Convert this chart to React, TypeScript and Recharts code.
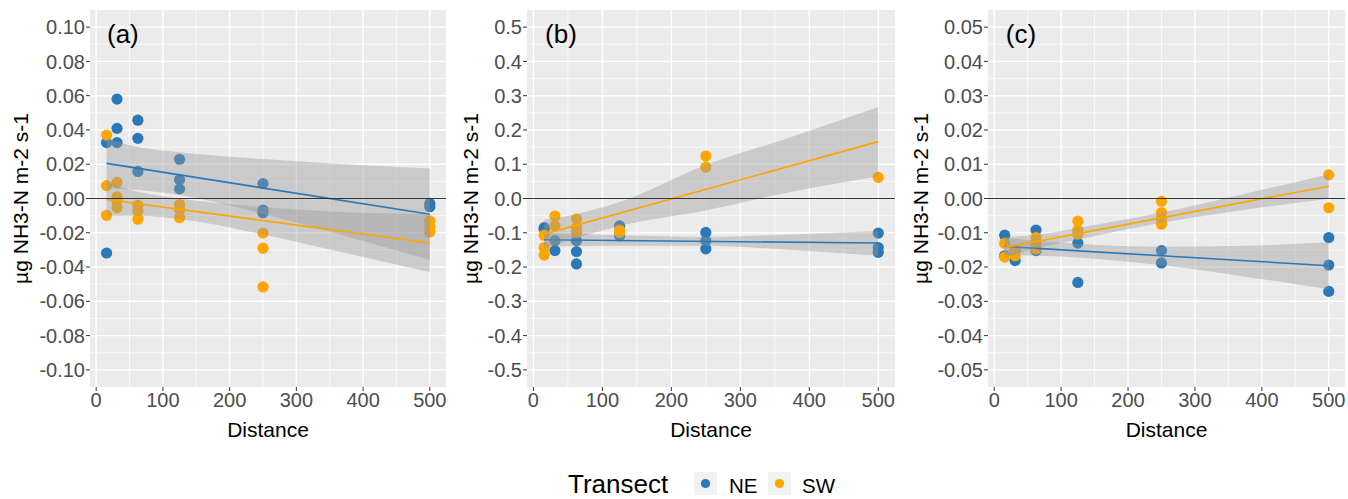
import React from 'react';
import {
  ComposedChart,
  Scatter,
  Line,
  Area,
  XAxis,
  YAxis,
  CartesianGrid,
  ReferenceLine,
  ReferenceDot,
} from 'recharts';

const NE_COLOR = '#2A78B8';
const SW_COLOR = '#FFA500';
const FONT = '"Liberation Sans", Arial, Helvetica, sans-serif';
const Y_TITLE = 'µg NH3-N m-2 s-1';

const xTicks = [0, 100, 200, 300, 400, 500];
const xMinor = [50, 150, 250, 350, 450];

// ---------- Panel (a) ----------
const aTicks = [-0.1, -0.08, -0.06, -0.04, -0.02, 0, 0.02, 0.04, 0.06, 0.08, 0.1];
const aMinor = [-0.09, -0.07, -0.05, -0.03, -0.01, 0.01, 0.03, 0.05, 0.07, 0.09];
const aNE = [
  { x: 15.625, y: 0.0326 }, { x: 15.625, y: -0.0318 },
  { x: 31.25, y: 0.058 }, { x: 31.25, y: 0.0409 }, { x: 31.25, y: 0.0326 },
  { x: 62.5, y: 0.0457 }, { x: 62.5, y: 0.0351 }, { x: 62.5, y: 0.0158 },
  { x: 125, y: 0.0229 }, { x: 125, y: 0.011 }, { x: 125, y: 0.0056 },
  { x: 250, y: 0.0087 }, { x: 250, y: -0.0067 }, { x: 250, y: -0.0083 },
  { x: 500, y: -0.0029 }, { x: 500, y: -0.0048 },
];
const aSW = [
  { x: 15.625, y: 0.037 }, { x: 15.625, y: 0.0075 }, { x: 15.625, y: -0.0098 },
  { x: 31.25, y: 0.0094 }, { x: 31.25, y: 0.001 }, { x: 31.25, y: -0.0015 }, { x: 31.25, y: -0.0054 },
  { x: 62.5, y: -0.004 }, { x: 62.5, y: -0.0073 }, { x: 62.5, y: -0.0121 },
  { x: 125, y: -0.0035 }, { x: 125, y: -0.0064 }, { x: 125, y: -0.0112 },
  { x: 250, y: -0.0202 }, { x: 250, y: -0.029 }, { x: 250, y: -0.0516 },
  { x: 500, y: -0.0131 }, { x: 500, y: -0.0164 }, { x: 500, y: -0.0195 },
];
const aNELine = [{ x: 15.625, y: 0.0205 }, { x: 500, y: -0.0092 }];
const aSWLine = [{ x: 15.625, y: -0.0006 }, { x: 500, y: -0.026 }];
const aNEBand = [
  { x: 15.625, lo: 0.006, hi: 0.035 },
  { x: 62.5, lo: 0.005, hi: 0.030 },
  { x: 125, lo: 0.002, hi: 0.027 },
  { x: 250, lo: -0.009, hi: 0.023 },
  { x: 375, lo: -0.022, hi: 0.020 },
  { x: 500, lo: -0.036, hi: 0.0175 },
];
const aSWBand = [
  { x: 15.625, lo: -0.010, hi: 0.009 },
  { x: 62.5, lo: -0.010, hi: 0.004 },
  { x: 125, lo: -0.012, hi: 0.0 },
  { x: 250, lo: -0.021, hi: -0.005 },
  { x: 375, lo: -0.032, hi: -0.008 },
  { x: 500, lo: -0.043, hi: -0.009 },
];

// ---------- Panel (b) ----------
const bTicks = [-0.5, -0.4, -0.3, -0.2, -0.1, 0, 0.1, 0.2, 0.3, 0.4, 0.5];
const bMinor = [-0.45, -0.35, -0.25, -0.15, -0.05, 0.05, 0.15, 0.25, 0.35, 0.45];
const bNE = [
  { x: 15.625, y: -0.085 }, { x: 15.625, y: -0.09 },
  { x: 31.25, y: -0.123 }, { x: 31.25, y: -0.152 },
  { x: 62.5, y: -0.123 }, { x: 62.5, y: -0.155 }, { x: 62.5, y: -0.191 },
  { x: 125, y: -0.08 }, { x: 125, y: -0.109 },
  { x: 250, y: -0.099 }, { x: 250, y: -0.123 }, { x: 250, y: -0.147 },
  { x: 500, y: -0.101 }, { x: 500, y: -0.143 }, { x: 500, y: -0.157 },
];
const bSW = [
  { x: 15.625, y: -0.107 }, { x: 15.625, y: -0.143 }, { x: 15.625, y: -0.165 },
  { x: 31.25, y: -0.051 }, { x: 31.25, y: -0.08 },
  { x: 62.5, y: -0.06 }, { x: 62.5, y: -0.085 }, { x: 62.5, y: -0.099 },
  { x: 125, y: -0.092 }, { x: 125, y: -0.099 },
  { x: 250, y: 0.124 }, { x: 250, y: 0.0916 },
  { x: 500, y: 0.0617 },
];
const bNELine = [{ x: 15.625, y: -0.1205 }, { x: 500, y: -0.13 }];
const bSWLine = [{ x: 15.625, y: -0.104 }, { x: 500, y: 0.166 }];
const bNEBand = [
  { x: 15.625, lo: -0.140, hi: -0.101 },
  { x: 125, lo: -0.138, hi: -0.107 },
  { x: 250, lo: -0.138, hi: -0.112 },
  { x: 375, lo: -0.150, hi: -0.105 },
  { x: 500, lo: -0.167, hi: -0.095 },
];
const bSWBand = [
  { x: 15.625, lo: -0.145, hi: -0.062 },
  { x: 62.5, lo: -0.115, hi: -0.045 },
  { x: 125, lo: -0.080, hi: -0.010 },
  { x: 250, lo: -0.035, hi: 0.098 },
  { x: 375, lo: 0.020, hi: 0.180 },
  { x: 500, lo: 0.064, hi: 0.267 },
];

// ---------- Panel (c) ----------
const cTicks = [-0.05, -0.04, -0.03, -0.02, -0.01, 0, 0.01, 0.02, 0.03, 0.04, 0.05];
const cMinor = [-0.045, -0.035, -0.025, -0.015, -0.005, 0.005, 0.015, 0.025, 0.035, 0.045];
const cNE = [
  { x: 15.625, y: -0.0107 }, { x: 15.625, y: -0.0167 },
  { x: 31.25, y: -0.0152 }, { x: 31.25, y: -0.0181 },
  { x: 62.5, y: -0.0092 }, { x: 62.5, y: -0.0152 },
  { x: 125, y: -0.013 }, { x: 125, y: -0.0245 },
  { x: 250, y: -0.0152 }, { x: 250, y: -0.0188 },
  { x: 500, y: -0.0114 }, { x: 500, y: -0.0194 }, { x: 500, y: -0.0271 },
];
const cSW = [
  { x: 15.625, y: -0.0131 }, { x: 15.625, y: -0.0171 },
  { x: 31.25, y: -0.015 }, { x: 31.25, y: -0.0167 },
  { x: 62.5, y: -0.0114 }, { x: 62.5, y: -0.0133 }, { x: 62.5, y: -0.0147 },
  { x: 125, y: -0.0066 }, { x: 125, y: -0.0092 }, { x: 125, y: -0.0104 },
  { x: 250, y: -0.0008 }, { x: 250, y: -0.0041 }, { x: 250, y: -0.0059 }, { x: 250, y: -0.0075 },
  { x: 500, y: 0.0069 }, { x: 500, y: -0.0027 },
];
const cNELine = [{ x: 15.625, y: -0.014 }, { x: 500, y: -0.0196 }];
const cSWLine = [{ x: 15.625, y: -0.0143 }, { x: 500, y: 0.0036 }];
const cNEBand = [
  { x: 15.625, lo: -0.0165, hi: -0.0115 },
  { x: 125, lo: -0.0172, hi: -0.0132 },
  { x: 250, lo: -0.0195, hi: -0.0141 },
  { x: 375, lo: -0.0228, hi: -0.0138 },
  { x: 500, lo: -0.0265, hi: -0.0128 },
];
const cSWBand = [
  { x: 15.625, lo: -0.0173, hi: -0.0113 },
  { x: 62.5, lo: -0.0146, hi: -0.0106 },
  { x: 125, lo: -0.0120, hi: -0.0086 },
  { x: 250, lo: -0.0071, hi: -0.0041 },
  { x: 375, lo: -0.0033, hi: 0.0014 },
  { x: 500, lo: -0.0001, hi: 0.0071 },
];

const bandKey = (d: any) => [d.lo, d.hi];

const dot = (color: string) => (p: any) =>
  p.cx == null ? <g /> : <circle cx={p.cx} cy={p.cy} r={5.6} fill={color} />;

type PanelProps = {
  left: number;
  width: number;
  yWidth: number;
  mRight: number;
  domain: [number, number];
  yTicks: number[];
  yMinor: number[];
  digits: number;
  ne: any[];
  sw: any[];
  neLine: any[];
  swLine: any[];
  neBand: any[];
  swBand: any[];
  tag: string;
  tagY: number;
};

function Panel(props: PanelProps) {
  const {
    left, width, yWidth, mRight, domain, yTicks, yMinor, digits,
    ne, sw, neLine, swLine, neBand, swBand, tag, tagY,
  } = props;
  return (
    <div style={{ position: 'absolute', left, top: 0 }}>
      <ComposedChart
        width={width}
        height={440}
        margin={{ top: 10, right: mRight, bottom: 0, left: 0 }}
      >
        <CartesianGrid
          fill="#EBEBEB"
          fillOpacity={1}
          stroke="#FFFFFF"
          strokeWidth={0.7}
          horizontalValues={yMinor}
          verticalValues={xMinor}
        />
        <CartesianGrid
          fill="none"
          stroke="#FFFFFF"
          strokeWidth={1.4}
          horizontalValues={yTicks}
          verticalValues={xTicks}
        />
        <XAxis
          type="number"
          dataKey="x"
          domain={[-9.25, 524.25]}
          ticks={xTicks}
          interval={0}
          allowDataOverflow
          axisLine={false}
          tickLine={{ stroke: '#333333' }}
          tickSize={4}
          tickMargin={2}
          height={53}
          tick={{ fill: '#4D4D4D', fontSize: 20, fontFamily: FONT }}
          label={{
            content: (lp: any) => {
              const vb = lp.viewBox || {};
              return (
                <text
                  x={vb.x + vb.width / 2}
                  y={437}
                  textAnchor="middle"
                  fontSize={21}
                  fontFamily={FONT}
                  fill="#000000"
                >
                  Distance
                </text>
              );
            },
          }}
        />
        <YAxis
          type="number"
          dataKey="y"
          domain={domain}
          ticks={yTicks}
          interval={0}
          allowDataOverflow
          width={yWidth}
          axisLine={false}
          tickLine={{ stroke: '#333333' }}
          tickSize={4}
          tickMargin={1}
          tick={{ fill: '#4D4D4D', fontSize: 20, fontFamily: FONT }}
          tickFormatter={(v: number) => (Math.abs(v) < 1e-12 ? 0 : v).toFixed(digits)}
          label={{
            content: () => (
              <text
                x={20}
                y={198.5}
                transform="rotate(-90, 20, 198.5)"
                textAnchor="middle"
                dominantBaseline="central"
                fontSize={21}
                fontFamily={FONT}
                fill="#000000"
              >
                {Y_TITLE}
              </text>
            ),
          }}
        />
        <Scatter data={ne} dataKey="y" fill={NE_COLOR} shape={dot(NE_COLOR)} isAnimationActive={false} />
        <Scatter data={sw} dataKey="y" fill={SW_COLOR} shape={dot(SW_COLOR)} isAnimationActive={false} />
        <Area
          data={neBand}
          dataKey={bandKey}
          type="monotone"
          stroke="none"
          fill="#999999"
          fillOpacity={0.4}
          isAnimationActive={false}
          zIndex={650}
        />
        <Line
          data={neLine}
          dataKey="y"
          type="linear"
          stroke={NE_COLOR}
          strokeWidth={1.6}
          dot={false}
          activeDot={false}
          isAnimationActive={false}
          zIndex={655}
        />
        <Area
          data={swBand}
          dataKey={bandKey}
          type="monotone"
          stroke="none"
          fill="#999999"
          fillOpacity={0.4}
          isAnimationActive={false}
          zIndex={660}
        />
        <Line
          data={swLine}
          dataKey="y"
          type="linear"
          stroke={SW_COLOR}
          strokeWidth={1.6}
          dot={false}
          activeDot={false}
          isAnimationActive={false}
          zIndex={665}
        />
        <ReferenceLine y={0} stroke="#333333" strokeWidth={1.1} zIndex={670} />
        <ReferenceDot
          x={40}
          y={tagY}
          r={0}
          fill="none"
          stroke="none"
          ifOverflow="visible"
          label={{ value: tag, position: 'center', fontSize: 26, fill: '#000000', fontFamily: FONT }}
        />
      </ComposedChart>
    </div>
  );
}

function LegendBox() {
  return (
    <svg
      width={1348}
      height={40}
      style={{ position: 'absolute', left: 0, top: 459 }}
    >
      <text x={568} y={33.5} fontSize={26} fontFamily={FONT} fill="#000000">
        Transect
      </text>
      <rect x={694} y={13} width={23} height={23} fill="#F2F2F2" />
      <circle cx={705.5} cy={24.5} r={4.6} fill={NE_COLOR} />
      <text x={729} y={33.5} fontSize={20.5} fontFamily={FONT} fill="#000000">
        NE
      </text>
      <rect x={768} y={13} width={23} height={23} fill="#F2F2F2" />
      <circle cx={779.5} cy={24.5} r={4.6} fill={SW_COLOR} />
      <text x={802} y={33.5} fontSize={20.5} fontFamily={FONT} fill="#000000">
        SW
      </text>
    </svg>
  );
}

export default function App() {
  return (
    <div
      style={{
        position: 'absolute',
        left: 0,
        top: 0,
        width: 1348,
        height: 499,
        background: '#FFFFFF',
        overflow: 'hidden',
      }}
    >
      <Panel
        left={0}
        width={450}
        yWidth={90}
        mRight={4}
        domain={[-0.11, 0.11]}
        yTicks={aTicks}
        yMinor={aMinor}
        digits={2}
        ne={aNE}
        sw={aSW}
        neLine={aNELine}
        swLine={aSWLine}
        neBand={aNEBand}
        swBand={aSWBand}
        tag="(a)"
        tagY={0.096}
      />
      <Panel
        left={450}
        width={450}
        yWidth={77}
        mRight={5}
        domain={[-0.55, 0.55]}
        yTicks={bTicks}
        yMinor={bMinor}
        digits={1}
        ne={bNE}
        sw={bSW}
        neLine={bNELine}
        swLine={bSWLine}
        neBand={bNEBand}
        swBand={bSWBand}
        tag="(b)"
        tagY={0.48}
      />
      <Panel
        left={900}
        width={448}
        yWidth={88}
        mRight={3}
        domain={[-0.055, 0.055]}
        yTicks={cTicks}
        yMinor={cMinor}
        digits={2}
        ne={cNE}
        sw={cSW}
        neLine={cNELine}
        swLine={cSWLine}
        neBand={cNEBand}
        swBand={cSWBand}
        tag="(c)"
        tagY={0.048}
      />
      <LegendBox />
    </div>
  );
}
